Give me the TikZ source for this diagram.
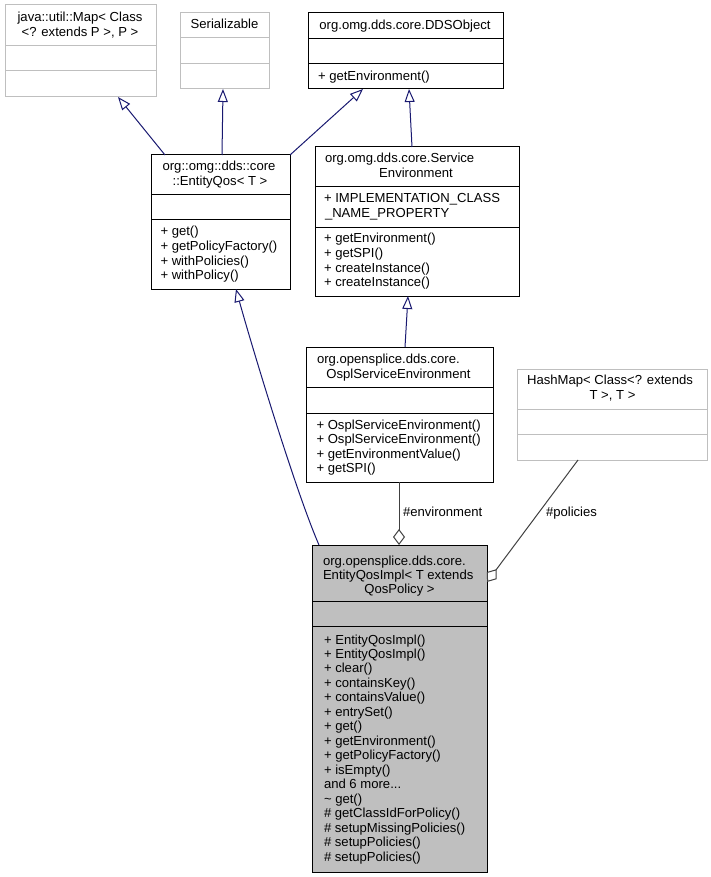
\documentclass[tikz,border=0pt]{standalone}
\usepackage{fontspec}
\setmainfont{Liberation Sans}
\usetikzlibrary{arrows.meta,calc}
\definecolor{inhcol}{RGB}{25,25,112}
\definecolor{asscol}{RGB}{64,64,64}
\definecolor{lgray}{RGB}{191,191,191}
\newcommand\umlbox[8]{%
  \node[#8, minimum width={#4-#2}, minimum height={#5-#3}] (#1) at ({(#2+#4)/2},{(#3+#5)/2}) {};
  \draw[#8sep] (#2,#6) -- (#4,#6) (#2,#7) -- (#4,#7);
}
\newcommand\andmoretxt{and 6 more...}
\newcommand\tildeget{\textasciitilde{} get()}
\begin{document}
\begin{tikzpicture}[x=1pt,y=-1pt,
  every node/.style={font=\fontsize{13.1}{14.5}\selectfont, inner sep=0pt, outer sep=0pt},
  blkbox/.style={draw=black, line width=1pt, fill=white},
  blkboxsep/.style={draw=black, line width=1pt},
  grybox/.style={draw=lgray, line width=1pt, fill=white},
  gryboxsep/.style={draw=lgray, line width=1pt},
  implbox/.style={draw=black, line width=1pt, fill=lgray},
  implboxsep/.style={draw=black, line width=1pt},
  txt/.style={anchor=base west},
  ctr/.style={anchor=base},
  inh/.style={draw=inhcol, line width=1pt, -{Triangle[open, length=13pt, width=10pt]}},
  ass/.style={draw=asscol, line width=1pt, -{Diamond[open, length=16pt, width=12pt]}}]
\useasboundingbox (0,0) rectangle (711,877);

% boxes
\umlbox{map}{5}{5}{156}{97}{46}{71}{grybox}
\umlbox{ser}{180}{13}{269}{89}{38}{64}{grybox}
\umlbox{dds}{308}{13}{503}{89}{39}{64}{blkbox}
\umlbox{eqos}{151}{155}{290}{289}{195}{220}{blkbox}
\umlbox{senv}{315}{147}{519}{296}{187}{228}{blkbox}
\umlbox{ospl}{306}{347}{493}{482}{387}{413}{blkbox}
\umlbox{hash}{517}{369}{707}{460}{409}{434}{grybox}
\umlbox{impl}{312}{545}{487}{872}{601}{626}{implbox}

% texts
\node[ctr] (mapt1) at (80,22) {java::util::Map< Class};
\node[ctr] (mapt2) at (80,37) {<? extends P >, P >};
\node[ctr] (sert) at (224.5,29) {Serializable};
\node[ctr] (ddst) at (405,29.5) {org.omg.dds.core.DDSObject};
\node[txt] (ddsm) at (318,80.5) {+ getEnvironment()};

\node[ctr] (eqost1) at (219,171) {org::omg::dds::core};
\node[ctr] (eqost2) at (220,185.5) {::EntityQos< T >};
\foreach \t [count=\i] in {+ get(),+ getPolicyFactory(),+ withPolicies(),+ withPolicy()}
  \node[txt] (eqosm\i) at (160.5,{236+(\i-1)*14.5}) {\t};

\node[txt] (senvt1) at (325,163) {org.omg.dds.core.Service};
\node[ctr] (senvt2) at (416,178) {Environment};
\node[txt] (senva1) at (324,203) {+ IMPLEMENTATION\_CLASS};
\node[txt] (senva2) at (325,218) {\_NAME\_PROPERTY};
\foreach \t [count=\i] in {+ getEnvironment(),+ getSPI(),+ createInstance(),+ createInstance()}
  \node[txt] (senvm\i) at (324,{243+(\i-1)*14.6}) {\t};

\node[txt] (osplt1) at (317,363.5) {org.opensplice.dds.core.};
\node[ctr] (osplt2) at (398.5,378) {OsplServiceEnvironment};
\foreach \t [count=\i] in {+ OsplServiceEnvironment(),+ OsplServiceEnvironment(),+ getEnvironmentValue(),+ getSPI()}
  \node[txt] (osplm\i) at (316.5,{429+(\i-1)*14.6}) {\t};

\node[ctr] (hasht1) at (610,384.5) {HashMap< Class<? extends};
\node[ctr] (hasht2) at (612.5,399.5) {T >, T >};

\node[txt] (implt1) at (323,565.5) {org.opensplice.dds.core.};
\node[txt] (implt2) at (323,579.5) {EntityQosImpl< T extends};
\node[ctr] (implt3) at (399.5,593.5) {QosPolicy >};
\foreach \t [count=\i] in {+ EntityQosImpl(),+ EntityQosImpl(),+ clear(),+ containsKey(),+ containsValue(),+ entrySet(),+ get(),+ getEnvironment(),+ getPolicyFactory(),+ isEmpty(),\andmoretxt,\tildeget,\# getClassIdForPolicy(),\# setupMissingPolicies(),\# setupPolicies(),\# setupPolicies()}
  \node[txt] (implm\i) at (324,{644+(\i-1)*14.47}) {\t};

% inheritance
\draw[inh] ($(eqos.north west)+(14,0)$) -- ($(map.south west)+(113,0)$);
\draw[inh] ($(eqos.north west)+(71,0)$) -- ($(ser.south west)+(43,0)$);
\draw[inh] (eqos.north east) -- ($(dds.south west)+(55,0)$);
\draw[inh] ($(senv.north west)+(97,0)$) -- ($(dds.south west)+(101,0)$);
\draw[inh] ($(ospl.north west)+(99,0)$) -- ($(senv.south west)+(93,0)$);
\draw[inh] ($(impl.north west)+(7,0)$) .. controls (295,490) and (250,340) .. ($(eqos.south west)+(85,0)$);

% associations
\draw[ass] ($(ospl.south west)+(93,0)$) -- ($(impl.north west)+(87,0)$);
\draw[ass] ($(hash.south west)+(61,0)$) -- ($(impl.north east)+(0,37)$);
\node[txt] (lenv) at (403,516.5) {\#environment};
\node[txt] (lpol) at (546,516.5) {\#policies};
\end{tikzpicture}
\end{document}
